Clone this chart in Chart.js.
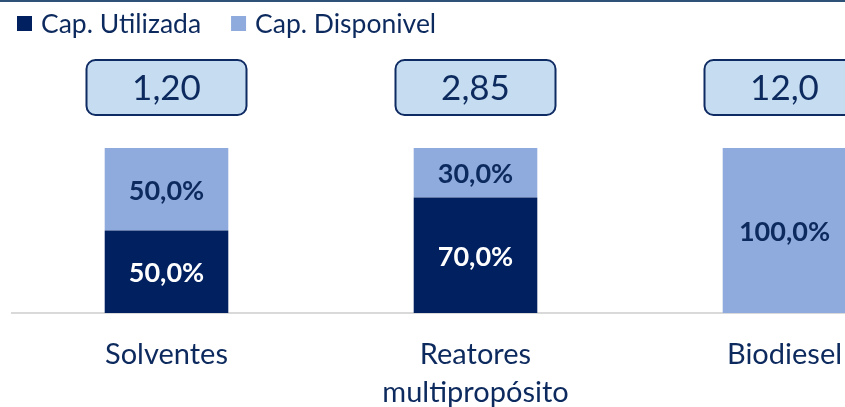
<!DOCTYPE html>
<html>
<head>
<meta charset="utf-8">
<script src="https://cdn.jsdelivr.net/npm/chart.js@4.4.0/dist/chart.umd.min.js"></script>
<style>
  html, body { margin: 0; padding: 0; background: #fff; overflow: hidden; }
  #wrap { position: relative; width: 940px; height: 407px; }
</style>
</head>
<body>
<div id="wrap"><canvas id="chart1"></canvas></div>
<script>
// dados
categorias = ['Solventes', ['Reatores', 'multipropósito'], 'Biodiesel'];
capUtilizada = [50, 70, 0];
capDisponivel = [50, 30, 100];
capacidade = [1.20, 2.85, 12.0];

const corEscura = '#002060';
const corClara = '#8FAADC';
const corTexto = '#0D2A5E';
const fonte = 'Lato, "Open Sans", sans-serif';

function formatPct(v){
    return v.toFixed(1).replace('.', ',') + '%';
}

function formatCap(v){
    return v.toPrecision(3).replace('.', ',');
}

// linha no topo, legenda, caixas de capacidade e rótulos das barras
const extras = {
    id: 'extras',
    beforeDraw(chart){
        const ctx = chart.ctx;
        ctx.save();
        ctx.fillStyle = '#2E5177';
        ctx.fillRect(0, 0, chart.width, 2);

        // legenda
        ctx.font = '26.5px ' + fonte;
        ctx.textBaseline = 'middle';
        ctx.textAlign = 'left';
        let x = 17;
        chart.data.datasets.forEach(function(ds){
            ctx.fillStyle = ds.backgroundColor;
            ctx.fillRect(x, 16, 15, 15);
            ctx.fillStyle = corTexto;
            ctx.fillText(ds.label, x + 24, 24);
            x += 24 + ctx.measureText(ds.label).width + 30;
        });
        ctx.restore();
    },
    afterDatasetsDraw(chart){
        const ctx = chart.ctx;
        const xScale = chart.scales.x;
        ctx.save();

        // caixas
        for(let i = 0; i < capacidade.length; i++){
            const cx = xScale.getPixelForValue(i);
            const w = 160, h = 55, top = 60;
            ctx.beginPath();
            ctx.roundRect(cx - w / 2, top, w, h, 9);
            ctx.fillStyle = '#C6DCF1';
            ctx.fill();
            ctx.lineWidth = 2;
            ctx.strokeStyle = '#0F2B63';
            ctx.stroke();
            ctx.fillStyle = corTexto;
            ctx.font = '35px ' + fonte;
            ctx.textAlign = 'center';
            ctx.textBaseline = 'middle';
            ctx.fillText(formatCap(capacidade[i]), cx, top + h / 2 + 1);
        }

        // rótulos das barras
        ctx.font = 'bold 27px ' + fonte;
        chart.data.datasets.forEach(function(ds, di){
            const meta = chart.getDatasetMeta(di);
            meta.data.forEach(function(el, i){
                const v = ds.data[i];
                if(!v) return;
                ctx.fillStyle = di === 0 ? '#FFFFFF' : corTexto;
                ctx.fillText(formatPct(v), el.x, (el.y + el.base) / 2 + 2);
            });
        });
        ctx.restore();
    }
};

chart1Ctx = document.querySelector('canvas#chart1').getContext('2d');

chart1 = new Chart(chart1Ctx, {
    type: 'bar',
    data: {
        labels: categorias,
        datasets: [
            {
                label: 'Cap. Utilizada',
                data: capUtilizada,
                backgroundColor: corEscura
            },
            {
                label: 'Cap. Disponivel',
                data: capDisponivel,
                backgroundColor: corClara
            }
        ]
    },
    options: {
        responsive: true,
        maintainAspectRatio: false,
        animation: false,
        layout: {
            padding: { top: 148, left: 12, right: 1, bottom: 0 }
        },
        datasets: {
            bar: { categoryPercentage: 0.4, barPercentage: 1 }
        },
        scales: {
            x: {
                stacked: true,
                grid: { display: false, drawTicks: false, tickLength: 0 },
                border: { display: true, color: '#D9D9D9', width: 2 },
                ticks: {
                    autoSkip: false,
                    maxRotation: 0,
                    padding: 23,
                    color: corTexto,
                    font: { family: fonte, size: 29, lineHeight: 1.3 }
                },
                afterFit(scale){
                    scale.height = 94;
                }
            },
            y: {
                stacked: true,
                display: false,
                min: 0,
                max: 100
            }
        },
        plugins: {
            legend: { display: false },
            tooltip: { enabled: false }
        }
    },
    plugins: [extras]
});
</script>
</body>
</html>
